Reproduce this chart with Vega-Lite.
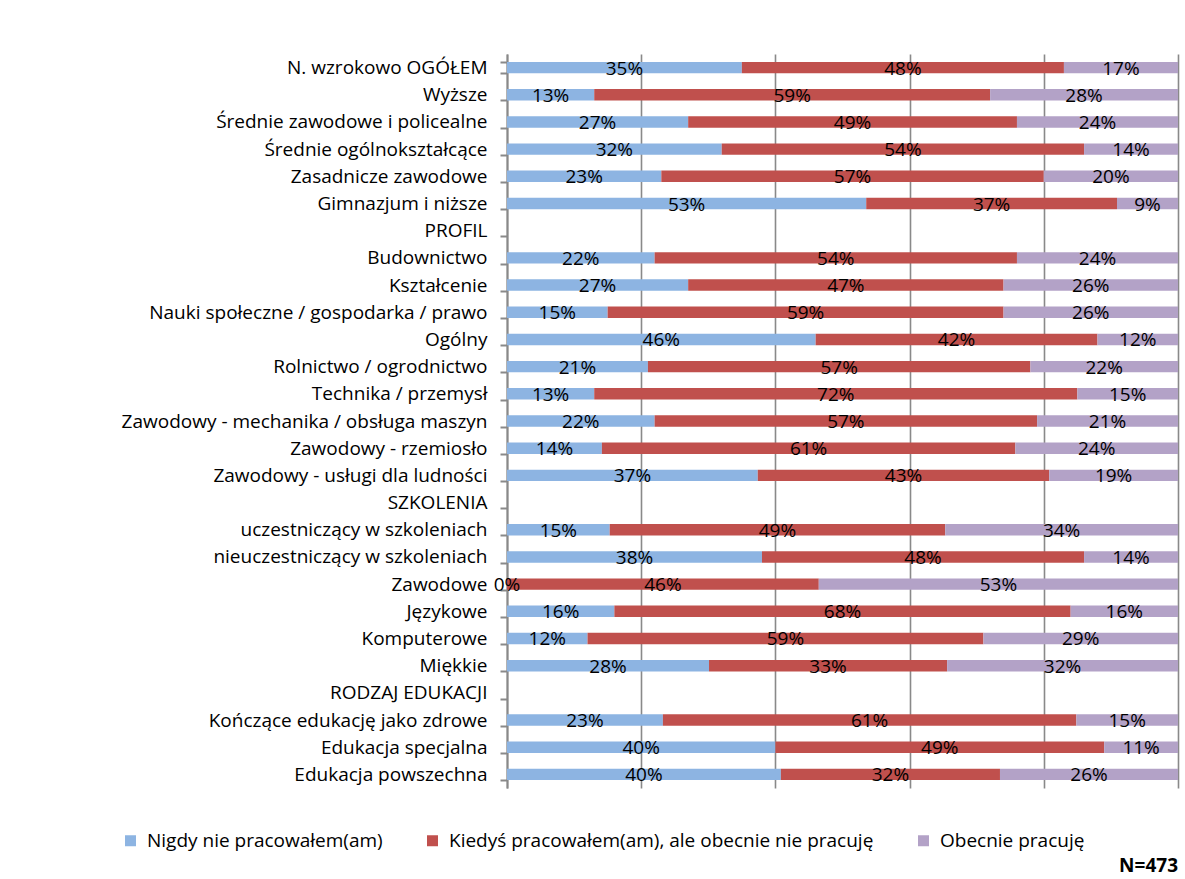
{
  "$schema": "https://vega.github.io/schema/vega-lite/v6.json",
  "width": 671,
  "height": 734,
  "autosize": {"type": "none"},
  "padding": {"left": 507, "top": 54, "right": 7, "bottom": 91},
  "background": "white",
  "config": {"font": "Open Sans", "view": {"stroke": null}},
  "title": {"text": "N=473", "orient": "bottom", "anchor": "end", "fontSize": 19, "fontWeight": "bold", "color": "black", "font": "Open Sans", "offset": 6},
  "data": {"values": [
    {"cat": "N. wzrokowo OGÓŁEM", "s": 1, "series": "Nigdy nie pracowałem(am)", "v": 0.35},
    {"cat": "N. wzrokowo OGÓŁEM", "s": 2, "series": "Kiedyś pracowałem(am), ale obecnie nie pracuję", "v": 0.48},
    {"cat": "N. wzrokowo OGÓŁEM", "s": 3, "series": "Obecnie pracuję", "v": 0.17},
    {"cat": "Wyższe", "s": 1, "series": "Nigdy nie pracowałem(am)", "v": 0.13},
    {"cat": "Wyższe", "s": 2, "series": "Kiedyś pracowałem(am), ale obecnie nie pracuję", "v": 0.59},
    {"cat": "Wyższe", "s": 3, "series": "Obecnie pracuję", "v": 0.28},
    {"cat": "Średnie zawodowe i policealne", "s": 1, "series": "Nigdy nie pracowałem(am)", "v": 0.27},
    {"cat": "Średnie zawodowe i policealne", "s": 2, "series": "Kiedyś pracowałem(am), ale obecnie nie pracuję", "v": 0.49},
    {"cat": "Średnie zawodowe i policealne", "s": 3, "series": "Obecnie pracuję", "v": 0.24},
    {"cat": "Średnie ogólnokształcące", "s": 1, "series": "Nigdy nie pracowałem(am)", "v": 0.32},
    {"cat": "Średnie ogólnokształcące", "s": 2, "series": "Kiedyś pracowałem(am), ale obecnie nie pracuję", "v": 0.54},
    {"cat": "Średnie ogólnokształcące", "s": 3, "series": "Obecnie pracuję", "v": 0.14},
    {"cat": "Zasadnicze zawodowe", "s": 1, "series": "Nigdy nie pracowałem(am)", "v": 0.23},
    {"cat": "Zasadnicze zawodowe", "s": 2, "series": "Kiedyś pracowałem(am), ale obecnie nie pracuję", "v": 0.57},
    {"cat": "Zasadnicze zawodowe", "s": 3, "series": "Obecnie pracuję", "v": 0.20},
    {"cat": "Gimnazjum i niższe", "s": 1, "series": "Nigdy nie pracowałem(am)", "v": 0.53},
    {"cat": "Gimnazjum i niższe", "s": 2, "series": "Kiedyś pracowałem(am), ale obecnie nie pracuję", "v": 0.37},
    {"cat": "Gimnazjum i niższe", "s": 3, "series": "Obecnie pracuję", "v": 0.09},
    {"cat": "Budownictwo", "s": 1, "series": "Nigdy nie pracowałem(am)", "v": 0.22},
    {"cat": "Budownictwo", "s": 2, "series": "Kiedyś pracowałem(am), ale obecnie nie pracuję", "v": 0.54},
    {"cat": "Budownictwo", "s": 3, "series": "Obecnie pracuję", "v": 0.24},
    {"cat": "Kształcenie", "s": 1, "series": "Nigdy nie pracowałem(am)", "v": 0.27},
    {"cat": "Kształcenie", "s": 2, "series": "Kiedyś pracowałem(am), ale obecnie nie pracuję", "v": 0.47},
    {"cat": "Kształcenie", "s": 3, "series": "Obecnie pracuję", "v": 0.26},
    {"cat": "Nauki społeczne / gospodarka / prawo", "s": 1, "series": "Nigdy nie pracowałem(am)", "v": 0.15},
    {"cat": "Nauki społeczne / gospodarka / prawo", "s": 2, "series": "Kiedyś pracowałem(am), ale obecnie nie pracuję", "v": 0.59},
    {"cat": "Nauki społeczne / gospodarka / prawo", "s": 3, "series": "Obecnie pracuję", "v": 0.26},
    {"cat": "Ogólny", "s": 1, "series": "Nigdy nie pracowałem(am)", "v": 0.46},
    {"cat": "Ogólny", "s": 2, "series": "Kiedyś pracowałem(am), ale obecnie nie pracuję", "v": 0.42},
    {"cat": "Ogólny", "s": 3, "series": "Obecnie pracuję", "v": 0.12},
    {"cat": "Rolnictwo / ogrodnictwo", "s": 1, "series": "Nigdy nie pracowałem(am)", "v": 0.21},
    {"cat": "Rolnictwo / ogrodnictwo", "s": 2, "series": "Kiedyś pracowałem(am), ale obecnie nie pracuję", "v": 0.57},
    {"cat": "Rolnictwo / ogrodnictwo", "s": 3, "series": "Obecnie pracuję", "v": 0.22},
    {"cat": "Technika / przemysł", "s": 1, "series": "Nigdy nie pracowałem(am)", "v": 0.13},
    {"cat": "Technika / przemysł", "s": 2, "series": "Kiedyś pracowałem(am), ale obecnie nie pracuję", "v": 0.72},
    {"cat": "Technika / przemysł", "s": 3, "series": "Obecnie pracuję", "v": 0.15},
    {"cat": "Zawodowy - mechanika / obsługa maszyn", "s": 1, "series": "Nigdy nie pracowałem(am)", "v": 0.22},
    {"cat": "Zawodowy - mechanika / obsługa maszyn", "s": 2, "series": "Kiedyś pracowałem(am), ale obecnie nie pracuję", "v": 0.57},
    {"cat": "Zawodowy - mechanika / obsługa maszyn", "s": 3, "series": "Obecnie pracuję", "v": 0.21},
    {"cat": "Zawodowy - rzemiosło", "s": 1, "series": "Nigdy nie pracowałem(am)", "v": 0.14},
    {"cat": "Zawodowy - rzemiosło", "s": 2, "series": "Kiedyś pracowałem(am), ale obecnie nie pracuję", "v": 0.61},
    {"cat": "Zawodowy - rzemiosło", "s": 3, "series": "Obecnie pracuję", "v": 0.24},
    {"cat": "Zawodowy - usługi dla ludności", "s": 1, "series": "Nigdy nie pracowałem(am)", "v": 0.37},
    {"cat": "Zawodowy - usługi dla ludności", "s": 2, "series": "Kiedyś pracowałem(am), ale obecnie nie pracuję", "v": 0.43},
    {"cat": "Zawodowy - usługi dla ludności", "s": 3, "series": "Obecnie pracuję", "v": 0.19},
    {"cat": "uczestniczący w szkoleniach", "s": 1, "series": "Nigdy nie pracowałem(am)", "v": 0.15},
    {"cat": "uczestniczący w szkoleniach", "s": 2, "series": "Kiedyś pracowałem(am), ale obecnie nie pracuję", "v": 0.49},
    {"cat": "uczestniczący w szkoleniach", "s": 3, "series": "Obecnie pracuję", "v": 0.34},
    {"cat": "nieuczestniczący w szkoleniach", "s": 1, "series": "Nigdy nie pracowałem(am)", "v": 0.38},
    {"cat": "nieuczestniczący w szkoleniach", "s": 2, "series": "Kiedyś pracowałem(am), ale obecnie nie pracuję", "v": 0.48},
    {"cat": "nieuczestniczący w szkoleniach", "s": 3, "series": "Obecnie pracuję", "v": 0.14},
    {"cat": "Zawodowe", "s": 1, "series": "Nigdy nie pracowałem(am)", "v": 0},
    {"cat": "Zawodowe", "s": 2, "series": "Kiedyś pracowałem(am), ale obecnie nie pracuję", "v": 0.46},
    {"cat": "Zawodowe", "s": 3, "series": "Obecnie pracuję", "v": 0.53},
    {"cat": "Językowe", "s": 1, "series": "Nigdy nie pracowałem(am)", "v": 0.16},
    {"cat": "Językowe", "s": 2, "series": "Kiedyś pracowałem(am), ale obecnie nie pracuję", "v": 0.68},
    {"cat": "Językowe", "s": 3, "series": "Obecnie pracuję", "v": 0.16},
    {"cat": "Komputerowe", "s": 1, "series": "Nigdy nie pracowałem(am)", "v": 0.12},
    {"cat": "Komputerowe", "s": 2, "series": "Kiedyś pracowałem(am), ale obecnie nie pracuję", "v": 0.59},
    {"cat": "Komputerowe", "s": 3, "series": "Obecnie pracuję", "v": 0.29},
    {"cat": "Miękkie", "s": 1, "series": "Nigdy nie pracowałem(am)", "v": 0.28},
    {"cat": "Miękkie", "s": 2, "series": "Kiedyś pracowałem(am), ale obecnie nie pracuję", "v": 0.33},
    {"cat": "Miękkie", "s": 3, "series": "Obecnie pracuję", "v": 0.32},
    {"cat": "Kończące edukację jako zdrowe", "s": 1, "series": "Nigdy nie pracowałem(am)", "v": 0.23},
    {"cat": "Kończące edukację jako zdrowe", "s": 2, "series": "Kiedyś pracowałem(am), ale obecnie nie pracuję", "v": 0.61},
    {"cat": "Kończące edukację jako zdrowe", "s": 3, "series": "Obecnie pracuję", "v": 0.15},
    {"cat": "Edukacja specjalna", "s": 1, "series": "Nigdy nie pracowałem(am)", "v": 0.40},
    {"cat": "Edukacja specjalna", "s": 2, "series": "Kiedyś pracowałem(am), ale obecnie nie pracuję", "v": 0.49},
    {"cat": "Edukacja specjalna", "s": 3, "series": "Obecnie pracuję", "v": 0.11},
    {"cat": "Edukacja powszechna", "s": 1, "series": "Nigdy nie pracowałem(am)", "v": 0.40},
    {"cat": "Edukacja powszechna", "s": 2, "series": "Kiedyś pracowałem(am), ale obecnie nie pracuję", "v": 0.32},
    {"cat": "Edukacja powszechna", "s": 3, "series": "Obecnie pracuję", "v": 0.26}
  ]},
  "encoding": {
    "y": {
      "field": "cat",
      "type": "nominal",
      "sort": null,
      "scale": {
        "domain": ["N. wzrokowo OGÓŁEM", "Wyższe", "Średnie zawodowe i policealne", "Średnie ogólnokształcące", "Zasadnicze zawodowe", "Gimnazjum i niższe", "PROFIL", "Budownictwo", "Kształcenie", "Nauki społeczne / gospodarka / prawo", "Ogólny", "Rolnictwo / ogrodnictwo", "Technika / przemysł", "Zawodowy - mechanika / obsługa maszyn", "Zawodowy - rzemiosło", "Zawodowy - usługi dla ludności", "SZKOLENIA", "uczestniczący w szkoleniach", "nieuczestniczący w szkoleniach", "Zawodowe", "Językowe", "Komputerowe", "Miękkie", "RODZAJ EDUKACJI", "Kończące edukację jako zdrowe", "Edukacja specjalna", "Edukacja powszechna"],
        "paddingInner": 0.58,
        "paddingOuter": 0.29
      },
      "axis": {
        "title": null,
        "labelFont": "Open Sans",
        "labelFontSize": 19,
        "labelColor": "black",
        "labelLimit": 600,
        "labelPadding": 13,
        "tickSize": 7,
        "tickColor": "#898989",
        "tickWidth": 2,
        "tickBand": "extent",
        "domainColor": "#898989",
        "domainWidth": 2,
        "grid": false
      }
    }
  },
  "layer": [
    {
      "mark": {"type": "bar"},
      "encoding": {
        "x": {
          "field": "v",
          "type": "quantitative",
          "stack": "normalize",
          "scale": {"domain": [0, 1]},
          "axis": {"title": null, "labels": false, "ticks": false, "domain": false, "grid": true, "gridColor": "#898989", "gridWidth": 1.6, "values": [0, 0.2, 0.4, 0.6, 0.8, 1]}
        },
        "color": {
          "field": "series",
          "type": "nominal",
          "scale": {
            "domain": ["Nigdy nie pracowałem(am)", "Kiedyś pracowałem(am), ale obecnie nie pracuję", "Obecnie pracuję"],
            "range": ["#8DB4E2", "#C0504D", "#B3A2C7"]
          },
          "legend": {
            "orient": "none",
            "legendX": -386,
            "legendY": 777,
            "direction": "horizontal",
            "title": null,
            "symbolType": "square",
            "symbolSize": 121,
            "symbolStrokeWidth": 0,
            "labelFont": "Open Sans",
            "labelFontSize": 19,
            "labelColor": "black",
            "labelLimit": 1000,
            "labelOffset": 7,
            "columnPadding": 40
          }
        },
        "order": {"field": "s", "type": "quantitative"}
      }
    },
    {
      "transform": [
        {"stack": "v", "groupby": ["cat"], "sort": [{"field": "s", "order": "ascending"}], "offset": "normalize", "as": ["x0", "x1"]},
        {"fold": ["x0", "x1"], "as": ["edge", "pos"]}
      ],
      "mark": {"type": "text", "fontSize": 19, "font": "Open Sans", "color": "black", "align": "center", "baseline": "middle", "dy": 1},
      "encoding": {
        "x": {"aggregate": "mean", "field": "pos", "type": "quantitative", "scale": {"domain": [0, 1]}},
        "detail": {"field": "series", "type": "nominal"},
        "text": {"aggregate": "max", "field": "v", "type": "quantitative", "format": ".0%"}
      }
    }
  ]
}
